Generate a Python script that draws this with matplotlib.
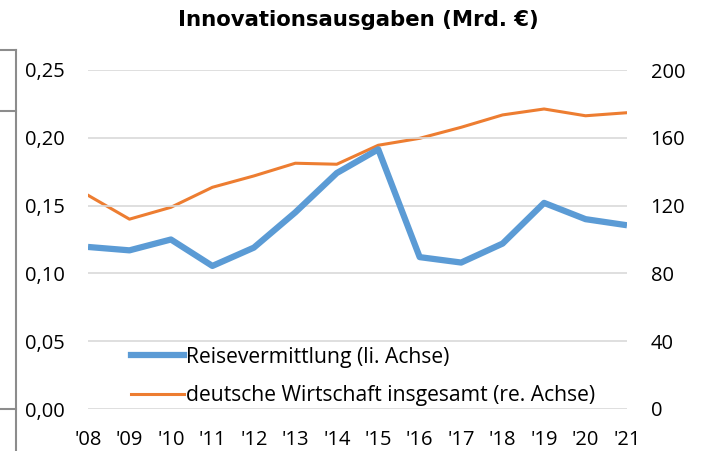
import numpy as np
import matplotlib.pyplot as plt
from matplotlib.lines import Line2D

# ============ DATEN ============
jahre = ["'08", "'09", "'10", "'11", "'12", "'13", "'14", "'15", "'16", "'17", "'18", "'19", "'20", "'21"]
reisevermittlung = [0.1195, 0.117, 0.125, 0.1055, 0.119, 0.145, 0.174, 0.1915,
                    0.112, 0.108, 0.122, 0.152, 0.140, 0.1355]
wirtschaft = [126.1, 112.0, 119.0, 130.8, 137.5, 145.0, 144.4, 155.6,
              159.7, 166.2, 173.5, 177.0, 173.0, 174.8]
links_ticks = [0.00, 0.05, 0.10, 0.15, 0.20, 0.25]
rechts_ticks = [0, 40, 80, 120, 160, 200]

blau = '#5B9BD5'
orange = '#ED7D31'
schrift = 'Open Sans'

fig = plt.figure(figsize=(7.09, 4.51), dpi=100)
ax = fig.add_axes([88/709, 1 - 409/451, (627-88)/709, (409-70)/451])
ax2 = ax.twinx()

x = np.arange(len(jahre))
ax.plot(x, reisevermittlung, color=blau, linewidth=4.5, solid_capstyle='butt', zorder=3)
ax2.plot(x, wirtschaft, color=orange, linewidth=2.2, zorder=3)

ax.set_xlim(0, len(jahre) - 1)
ax.set_ylim(0, 0.25)
ax2.set_ylim(0, 200)
ax.set_yticks(links_ticks)
ax.set_yticklabels([f'{v:.2f}'.replace('.', ',') for v in links_ticks])
ax2.set_yticks(rechts_ticks)
ax2.set_yticklabels([str(v) for v in rechts_ticks])
ax.set_xticks(x)
ax.set_xticklabels(jahre)

ax.grid(axis='y', color='#d9d9d9', linewidth=1.2)
ax.set_axisbelow(True)
for a in (ax, ax2):
    for s in a.spines.values():
        s.set_visible(False)
    a.tick_params(length=0, labelsize=14.5)
    for lbl in a.get_xticklabels() + a.get_yticklabels():
        lbl.set_fontfamily(schrift)
ax.tick_params(axis='y', pad=16.5)
ax.tick_params(axis='x', pad=15)
ax2.tick_params(axis='y', pad=17)
ax.set_zorder(ax2.get_zorder() + 1)
ax.patch.set_visible(False)

handles = [Line2D([], [], color=blau, linewidth=4.5),
           Line2D([], [], color=orange, linewidth=2.2)]
ax.legend(handles, ['Reisevermittlung (li. Achse)', 'deutsche Wirtschaft insgesamt (re. Achse)'],
          loc='center left', bbox_to_anchor=(0.06, (409 - 376.5) / 339), frameon=False,
          prop={'family': schrift, 'size': 15.2}, handlelength=2.5, handletextpad=0.1,
          labelspacing=0.85, borderpad=0)

fig.text(358/709, 1 - 20/451, 'Innovationsausgaben (Mrd. €)', ha='center', va='center',
         fontsize=15.3, fontweight='bold', family='DejaVu Sans')

# Rahmenreste links
grau = '#8c8c8c'
fig.add_artist(Line2D([16/709, 16/709], [0, 1 - 50/451], color=grau, linewidth=1.5))
for yy in (50, 111, 409):
    fig.add_artist(Line2D([0, 16/709], [1 - yy/451, 1 - yy/451], color=grau, linewidth=1.5))

fig.savefig('out.png', dpi=100)
